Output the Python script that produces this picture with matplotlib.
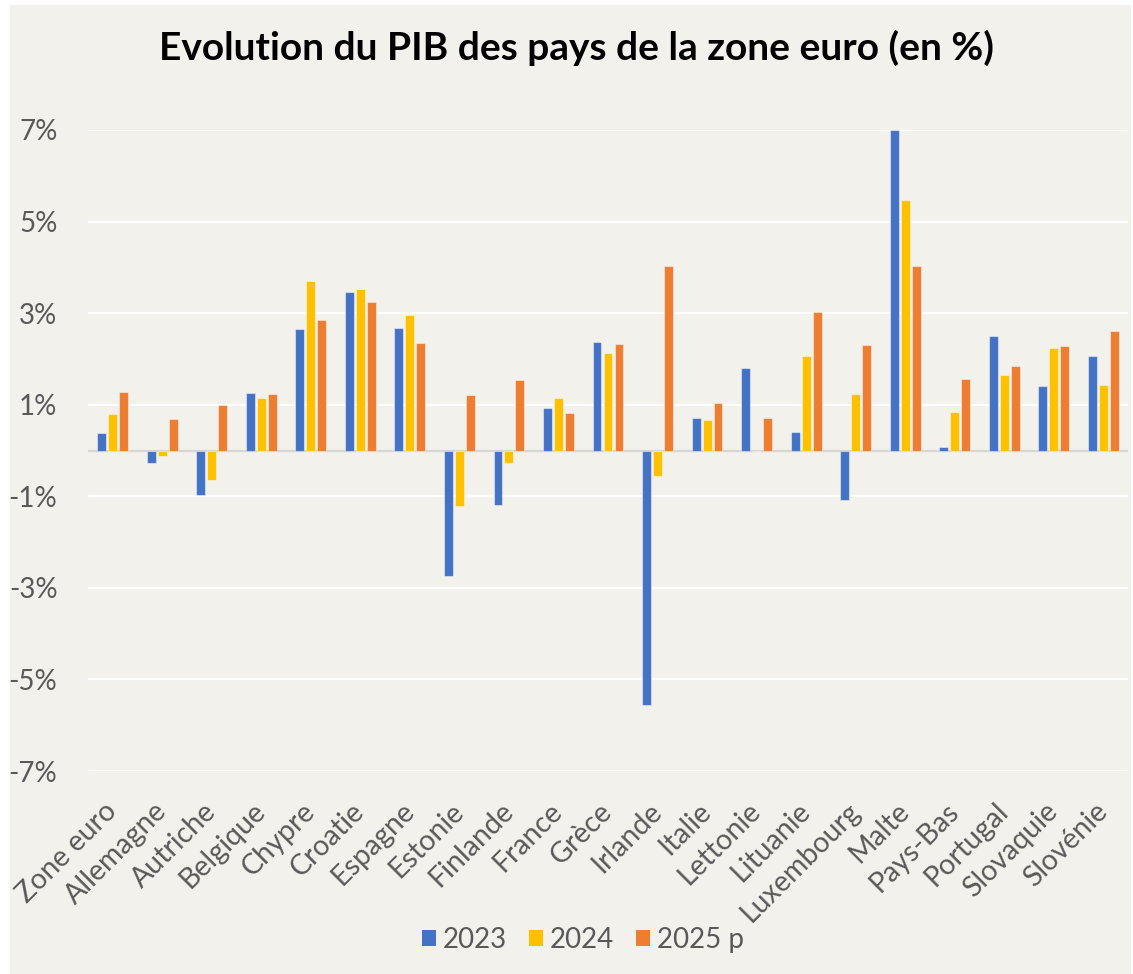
import matplotlib
matplotlib.use("Agg")
import matplotlib.pyplot as plt
from matplotlib.patches import Rectangle
from matplotlib.ticker import FuncFormatter
import numpy as np

plt.rcParams['font.family'] = ['Lato', 'DejaVu Sans']

categories = ["Zone euro", "Allemagne", "Autriche", "Belgique", "Chypre", "Croatie",
              "Espagne", "Estonie", "Finlande", "France", "Grèce", "Irlande", "Italie",
              "Lettonie", "Lituanie", "Luxembourg", "Malte", "Pays-Bas", "Portugal",
              "Slovaquie", "Slovénie"]
series_names = ["2023", "2024", "2025 p"]
v2023 = [0.39, -0.27, -0.98, 1.26, 2.66, 3.47, 2.68, -2.75, -1.18, 0.93, 2.38, -5.55,
         0.70, 1.80, 0.41, -1.09, 6.99, 0.07, 2.50, 1.40, 2.07]
v2024 = [0.79, -0.12, -0.64, 1.15, 3.71, 3.52, 2.97, -1.22, -0.27, 1.15, 2.12, -0.56,
         0.66, 0.0, 2.06, 1.24, 5.48, 0.83, 1.64, 2.23, 1.42]
v2025 = [1.28, 0.69, 0.99, 1.23, 2.86, 3.24, 2.35, 1.21, 1.53, 0.82, 2.32, 4.04,
         1.04, 0.71, 3.03, 2.31, 4.04, 1.56, 1.84, 2.28, 2.60]
yticks = [-7, -5, -3, -1, 1, 3, 5, 7]
title = "Evolution du PIB des pays de la zone euro (en %)"

colors = ["#4472C4", "#FFC000", "#ED7D31"]
W, H = 1133, 974
fig = plt.figure(figsize=(W / 100, H / 100), dpi=100)
fig.patch.set_facecolor("white")
bg = "#F2F1EC"
fig.patches.append(Rectangle((10 / W, 0), (1131 - 10) / W, (974 - 5) / H,
                             transform=fig.transFigure, facecolor=bg,
                             edgecolor="none", zorder=-10))

ax = fig.add_axes([88 / W, 1 - 771 / H, 1040 / W, 641 / H])
ax.set_facecolor("none")

x = np.arange(len(categories))
slot = 0.222
bw = 0.18
for i, (vals, name) in enumerate(zip([v2023, v2024, v2025], series_names)):
    ax.bar(x + (i - 1) * slot, vals, width=bw, color=colors[i], label=name,
           edgecolor=(1, 1, 1, 0.45), linewidth=0.8, zorder=3)

ax.set_xlim(-0.5, len(categories) - 0.5)
ax.set_ylim(-7, 7)
ax.set_yticks(yticks)
ax.yaxis.set_major_formatter(FuncFormatter(lambda v, p: f"{v:.0f}%"))
ax.grid(axis="y", color="white", linewidth=1.6, zorder=0)
ax.axhline(0, color="#D6D6D6", linewidth=1.6, zorder=1)
for s in ax.spines.values():
    s.set_visible(False)
ax.tick_params(axis="both", length=0, colors="#595959", labelsize=20)
ax.tick_params(axis="y", pad=22)
ax.set_xticks(x)
ax.set_xticklabels(categories, rotation=45, ha="right", va="center",
                   rotation_mode="anchor", fontsize=20.5, color="#595959")
ax.tick_params(axis="x", pad=26)

fig.text(577 / W, 1 - 48 / H, title, ha="center", va="center",
         fontsize=28, fontweight="bold", color="black")

leg = fig.legend(loc="center", bbox_to_anchor=(583 / W, 1 - 940 / H), ncol=3,
                 frameon=False, fontsize=20, handlelength=0.5, handleheight=0.5,
                 handletextpad=0.25, columnspacing=0.8)
for t in leg.get_texts():
    t.set_color("#595959")
for h in leg.legend_handles:
    h.set_edgecolor("none")

fig.savefig("out.png", dpi=100, facecolor="white")
